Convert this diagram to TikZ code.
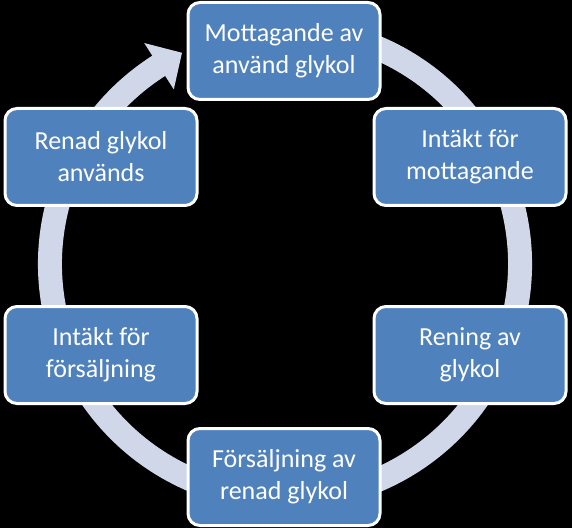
\documentclass[tikz,border=0pt]{standalone}
\usepackage{fontspec}
\setmainfont{Carlito}
\usetikzlibrary{calc}
\definecolor{boxblue}{RGB}{79,129,189}
\definecolor{ringcol}{RGB}{207,215,232}
\tikzset{
  stepbox/.style={draw=white, line width=3pt, fill=boxblue, rounded corners=12pt,
    minimum width=192pt, minimum height=97pt, inner sep=2pt, align=center,
    text=white, font=\fontsize{26}{32}\selectfont},
  ring/.style={draw=ringcol, line width=24pt}
}
\begin{document}
\begin{tikzpicture}[x=1pt,y=1pt]
\fill[black] (0,0) rectangle (572,528);
\useasboundingbox (0,0) rectangle (572,528);
\coordinate (c) at (285,264);
% ring
\draw[ring] ($(c)+(70:235)$) arc[start angle=70, end angle=-238, radius=235];
\coordinate (hb1) at ($(c)+(122.5:207)$);
\coordinate (hb2) at ($(c)+(122.5:262)$);
\coordinate (ht) at ($(c)+(116:235)$);
\fill[ringcol] (hb1) -- (hb2) -- (ht) -- cycle;
% boxes
\node[stepbox] (n1) at (284,477) {Mottagande av\\använd glykol};
\node[stepbox] (n2) at (470,371) {Intäkt för\\mottagande};
\node[stepbox] (n3) at (470,173) {Rening av\\glykol};
\node[stepbox] (n4) at (284,51) {Försäljning av\\renad glykol};
\node[stepbox] (n5) at (101,173) {Intäkt för\\försäljning};
\node[stepbox] (n6) at (101,371) {Renad glykol\\används};
\end{tikzpicture}
\end{document}
